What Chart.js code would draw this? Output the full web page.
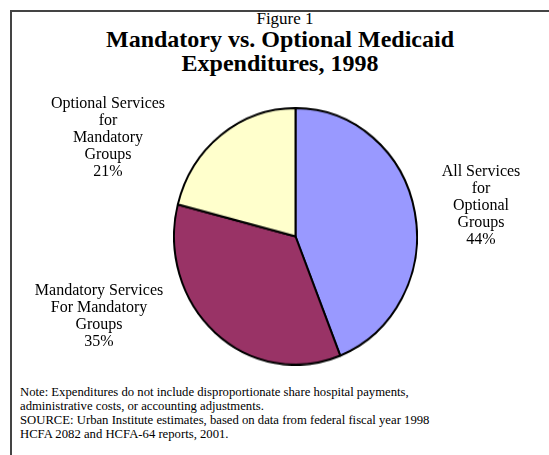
<!DOCTYPE html>
<html>
<head>
<meta charset="utf-8">
<script src="https://cdn.jsdelivr.net/npm/chart.js@4/dist/chart.umd.min.js"></script>
<style>
  html, body { margin: 0; padding: 0; background: #fff; }
  body { width: 549px; height: 455px; position: relative; overflow: hidden;
         font-family: 'Liberation Serif', 'Times New Roman', serif; color: #000; }
  #frame { position: absolute; left: 10px; top: 10px; width: 560px; height: 470px;
           border-top: 2px solid #444; border-left: 2px solid #444; }
  .t { position: absolute; text-align: center; white-space: nowrap; }
  #fig { left: 185px; width: 200px; top: 9px; font-size: 17px; line-height: 19px; }
  #title { left: 40px; width: 480px; top: 27px; font-size: 24px; font-weight: bold; line-height: 24px; }
  #pieWrap { position: absolute; left: 173px; top: 107px; width: 245px; height: 245px;
             transform-origin: 0 0; transform: scaleY(1.056); }
  .lbl { font-size: 16px; line-height: 17px; }
  #notes { position: absolute; left: 20px; top: 385px; font-size: 12.7px; line-height: 14px; white-space: nowrap; }
</style>
</head>
<body>
<div id="frame"></div>
<div class="t" id="fig">Figure 1</div>
<div class="t" id="title">Mandatory vs. Optional Medicaid<br>Expenditures, 1998</div>
<div id="pieWrap"><canvas id="pie" width="245" height="245"></canvas></div>
<div id="labels"></div>
<div id="notes">Note: Expenditures do not include disproportionate share hospital payments,<br>administrative costs, or accounting adjustments.<br>SOURCE: Urban Institute estimates, based on data from federal fiscal year 1998<br>HCFA 2082 and HCFA-64 reports, 2001.</div>
<script>
// Share of 1998 Medicaid spending, clockwise from 12 o'clock
const categories = [
  ['All Services', 'for', 'Optional', 'Groups'],
  ['Mandatory Services', 'For Mandatory', 'Groups'],
  ['Optional Services', 'for', 'Mandatory', 'Groups']
];
const shares = [44, 35, 21];
const sliceColors = ['#9999FF', '#993366', '#FFFFCC'];

// where each slice's caption sits (centre x, top y)
const captionSpots = [
  { x: 481, y: 162 },
  { x: 99, y: 281 },
  { x: 108, y: 94 }
];

new Chart(document.getElementById('pie'), {
  type: 'pie',
  data: {
    labels: categories.map(c => c.join(' ')),
    datasets: [{
      data: shares,
      backgroundColor: sliceColors,
      borderColor: '#000',
      borderWidth: 2
    }]
  },
  options: {
    responsive: false,
    animation: false,
    devicePixelRatio: 1,
    layout: { padding: 0 },
    plugins: { legend: { display: false }, tooltip: { enabled: false } }
  }
});

const labelBox = document.getElementById('labels');
categories.forEach((lines, i) => {
  const d = document.createElement('div');
  d.className = 't lbl';
  d.style.left = (captionSpots[i].x - 100) + 'px';
  d.style.width = '200px';
  d.style.top = captionSpots[i].y + 'px';
  d.innerHTML = lines.concat([shares[i] + '%']).join('<br>');
  labelBox.appendChild(d);
});
</script>
</body>
</html>
